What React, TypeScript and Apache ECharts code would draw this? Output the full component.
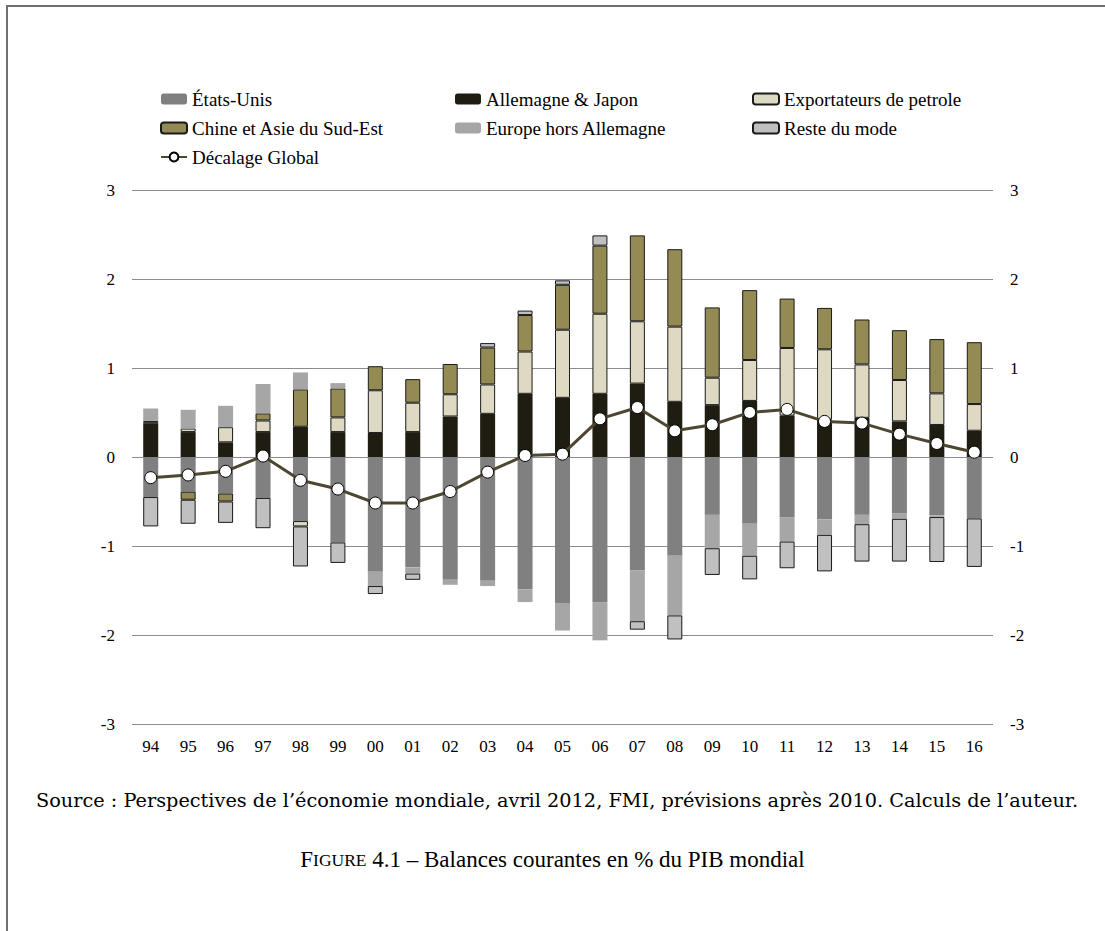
import React, { useEffect, useRef } from "react";
import * as echarts from "echarts";

const categories = ["94","95","96","97","98","99","00","01","02","03","04","05","06","07","08","09","10","11","12","13","14","15","16"];

const etatsUnis = [-0.45,-0.39,-0.41,-0.46,-0.72,-0.96,-1.29,-1.24,-1.38,-1.39,-1.49,-1.64,-1.63,-1.275,-1.11,-0.65,-0.75,-0.675,-0.70,-0.65,-0.63,-0.655,-0.69];
const allemagneJapon = [0.38,0.28,0.165,0.28,0.34,0.28,0.27,0.28,0.455,0.485,0.71,0.665,0.71,0.825,0.62,0.583,0.63,0.465,0.42,0.44,0.40,0.36,0.295];
const exportateurs = [0.025,0.04,0.17,0.13,-0.06,0.165,0.48,0.33,0.25,0.33,0.475,0.765,0.9,0.70,0.845,0.308,0.46,0.76,0.79,0.60,0.465,0.355,0.30];
const chineAsie = [0,-0.09,-0.09,0.08,0.42,0.325,0.27,0.265,0.34,0.415,0.41,0.505,0.765,0.965,0.87,0.79,0.785,0.555,0.465,0.505,0.56,0.61,0.695];
const europeHorsAllemagne = [0.14,0.21,0.24,0.33,0.19,0.06,-0.16,-0.07,-0.056,-0.06,-0.14,-0.31,-0.43,-0.57,-0.67,-0.375,-0.36,-0.275,-0.175,-0.105,-0.065,-0.02,0];
const resteDuMonde = [-0.33,-0.27,-0.24,-0.34,-0.45,-0.23,-0.09,-0.07,0,0.05,0.05,0.05,0.115,-0.095,-0.27,-0.30,-0.265,-0.30,-0.41,-0.42,-0.48,-0.505,-0.545];
const decalageGlobal = [-0.232,-0.202,-0.161,0.011,-0.262,-0.36,-0.517,-0.517,-0.388,-0.17,0.017,0.032,0.429,0.556,0.294,0.362,0.501,0.535,0.40,0.381,0.257,0.152,0.054];

const yTicks = { min: -3, max: 3, interval: 1 };

const SERIF = "Liberation Serif";
const CM = "DejaVu Serif";

const clean = (arr: number[]) => arr.map((v) => (v === 0 ? "-" : v));

export default function App() {
  const ref = useRef<HTMLDivElement>(null);
  useEffect(() => {
    if (!ref.current) return;
    const chart = echarts.init(ref.current, null, { renderer: "svg" });
    const barBase = { type: "bar", stack: "total", barWidth: 15 };
    const border = { borderColor: "#1a1a1a", borderWidth: 1 };
    const legendCommon = {
      orient: "vertical",
      itemWidth: 26,
      itemHeight: 11,
      itemGap: 9,
      textStyle: { fontFamily: SERIF, fontSize: 19, color: "#000", lineHeight: 20 },
      top: 89,
      padding: 0,
    };
    chart.setOption({
      animation: false,
      backgroundColor: "transparent",
      textStyle: { fontFamily: SERIF },
      grid: { left: 132, right: 112, top: 190, bottom: 207 },
      legend: [
        { ...legendCommon, left: 160, data: ["États-Unis", "Chine et Asie du Sud-Est", "Décalage Global"] },
        { ...legendCommon, left: 455, data: ["Allemagne & Japon", "Europe hors Allemagne"] },
        { ...legendCommon, left: 752, data: ["Exportateurs de petrole", "Reste du mode"] },
      ],
      xAxis: {
        type: "category",
        data: categories,
        axisLine: { show: false },
        axisTick: { show: false },
        axisLabel: { fontFamily: SERIF, fontSize: 17, color: "#000", margin: 14 },
      },
      yAxis: [
        {
          type: "value",
          ...yTicks,
          position: "left",
          axisLine: { show: false },
          axisTick: { show: false },
          splitLine: { lineStyle: { color: "#8c8c8c", width: 1 } },
          axisLabel: { fontFamily: SERIF, fontSize: 17, color: "#000", margin: 17 },
        },
        {
          type: "value",
          ...yTicks,
          position: "right",
          axisLine: { show: false },
          axisTick: { show: false },
          splitLine: { show: false },
          axisLabel: { fontFamily: SERIF, fontSize: 17, color: "#000", margin: 17 },
        },
      ],
      series: [
        { ...barBase, name: "États-Unis", data: clean(etatsUnis), itemStyle: { color: "#808080" } },
        { ...barBase, name: "Allemagne & Japon", data: clean(allemagneJapon), itemStyle: { color: "#1f1c11" } },
        { ...barBase, name: "Exportateurs de petrole", data: clean(exportateurs), itemStyle: { color: "#ddd9c3", ...border } },
        { ...barBase, name: "Chine et Asie du Sud-Est", data: clean(chineAsie), itemStyle: { color: "#948a54", ...border } },
        { ...barBase, name: "Europe hors Allemagne", data: clean(europeHorsAllemagne), itemStyle: { color: "#a6a6a6" } },
        { ...barBase, name: "Reste du mode", data: clean(resteDuMonde), itemStyle: { color: "#c0c0c0", ...border } },
        {
          type: "line",
          name: "Décalage Global",
          data: decalageGlobal,
          z: 5,
          symbol: "circle",
          symbolSize: 12,
          lineStyle: { color: "#4d4630", width: 3 },
          itemStyle: { color: "#ffffff", borderColor: "#000", borderWidth: 1 },
        },
      ],
      graphic: [
        {
          type: "text",
          left: 36,
          top: 791,
          style: {
            text: "Source : Perspectives de l’économie mondiale, avril 2012, FMI, prévisions après 2010. Calculs de l’auteur.",
            fontFamily: CM,
            fontSize: 19.3,
            fill: "#000",
          },
        },
        {
          type: "text",
          left: "center",
          top: 848,
          style: {
            text: "{a|F}{b|IGURE}{c| 4.1 – Balances courantes en % du PIB mondial}",
            fill: "#000",
            rich: {
              a: { fontFamily: SERIF, fontSize: 23, fill: "#000" },
              b: { fontFamily: SERIF, fontSize: 17.5, fill: "#000" },
              c: { fontFamily: SERIF, fontSize: 23, fill: "#000" },
            },
          },
        },
      ],
    });
    return () => chart.dispose();
  }, []);
  return (
    <div style={{ position: "fixed", left: 0, top: 0, width: 1105, height: 931, overflow: "hidden", background: "#fff" }}>
      <div
        style={{
          position: "absolute",
          left: 6,
          top: 5,
          width: 1200,
          height: 1100,
          borderLeft: "2px solid #707070",
          borderTop: "2px solid #707070",
        }}
      />
      <div ref={ref} style={{ position: "absolute", left: 0, top: 0, width: 1105, height: 931 }} />
    </div>
  );
}
